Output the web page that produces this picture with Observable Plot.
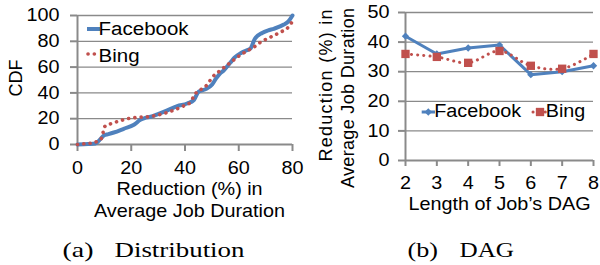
<!DOCTYPE html>
<html>
<head>
<meta charset="utf-8">
<script src="https://cdn.jsdelivr.net/npm/d3@7"></script>
<script src="https://cdn.jsdelivr.net/npm/@observablehq/plot@0.6"></script>
<style>
html, body { margin:0; padding:0; background:#fff; }
#wrap { position:relative; width:600px; height:265px; overflow:hidden; background:#fff; }
#wrap > svg { position:absolute; top:0; }
#wrap svg text { fill:#000; }
#wrap svg [aria-label*="tick"] line, #wrap svg [aria-label*="tick"] path,
#wrap svg [aria-label="x-axis"] line, #wrap svg [aria-label="y-axis"] line { stroke-width:2px; }
</style>
</head>
<body>
<div id="wrap"></div>
<script>
// ---------- data ----------
const seriesNames = ["Facebook", "Bing"];

// (a) CDF of reduction (%) in average job duration
const cdfFacebookX = [0,4,6.7,8.6,9.8,11.5,13.5,17.2,21,23.4,25,27.2,29.7,33.4,37.1,40.8,43.3,45.1,47.6,50.1,51.5,53,54.4,56.9,58.5,60.7,63,64.4,66,68.7,71,73,76.8,78.5,80];
const cdfFacebookY = [0,0.3,0.8,4.4,7,8,9.3,12.2,15.3,19.1,20.5,21.5,23.4,26.4,29.8,31.8,34.5,41,42.8,46.5,51,55,57.4,63.5,67.5,70.8,73,74.5,82,86.5,88.5,89.7,93,95.5,100];
const cdfBingX = [0,1.1,4.8,7.9,9.2,9.9,12.3,15.4,18.5,22.2,26.5,28.4,32.1,35.8,39.6,42,43.3,44.3,46.4,48.3,50.1,52.6,56.9,60.7,64.4,66,68.1,71.8,75.5,78,80];
const cdfBingY = [0,0.3,1,3.1,5.7,13.5,16,18.1,19.9,21,21.5,22.2,24,26.6,30,32.6,37.5,40.5,43.2,46.5,52,56.5,63.5,69.5,74,76,79.3,83.2,87.1,90,95.5];
const cdfXTicks = [0,20,40,60,80];
const cdfYTicks = [0,20,40,60,80,100];
const cdfXTitle = ["Reduction (%) in", "Average Job Duration"];
const cdfYTitle = "CDF";

// (b) reduction by length of job's DAG
const dagLength = [2,3,4,5,6,7,8];
const dagFacebook = [42,36,38,39,29,30,32];
const dagBing = [36,35,33,37,32,31,36];
const dagYTicks = [0,10,20,30,40,50];
const dagXTitle = "Length of Job\u2019s DAG";
const dagYTitle = ["Reduction (%) in", "Average Job Duration"];

const captions = [["(a)", "Distribution"], ["(b)", "DAG"]];

// ---------- styles ----------
const blue = "#4F81BD", red = "#C0504D", gray = "#8a8a8a";
const font = "'Liberation Sans', Arial, sans-serif";
const serif = "'Liberation Serif', 'Times New Roman', serif";

const fbRows = cdfFacebookX.map((x, i) => ({x, y: cdfFacebookY[i]}));
const bingRows = cdfBingX.map((x, i) => ({x, y: cdfBingY[i]}));
const dagRows = dagLength.map((len, i) => ({len, fb: dagFacebook[i], bing: dagBing[i]}));

const baseStyle = {fontFamily: font, fontSize: "18px", color: gray, background: "transparent", overflow: "visible"};
const title = {text: d => d, textAnchor: "middle", lineAnchor: "middle", fill: "#000"};

const left = Plot.plot({
  width: 300, height: 225,
  marginLeft: 77, marginRight: 8, marginTop: 15, marginBottom: 81,
  style: baseStyle,
  x: {domain: [0, 80], ticks: cdfXTicks, tickFormat: d => String(d), tickSize: 7, tickPadding: 9.5, label: null},
  y: {domain: [0, 100], ticks: cdfYTicks, tickFormat: d => String(d), tickSize: 7, tickPadding: 11, label: null},
  marks: [
    Plot.ruleY(cdfYTicks.filter(d => d > 0), {stroke: gray, strokeWidth: 1.3}),
    Plot.ruleX([0], {stroke: gray, strokeWidth: 2}),
    Plot.ruleY([0], {stroke: gray, strokeWidth: 2}),
    Plot.line(fbRows, {x: "x", y: "y", stroke: blue, strokeWidth: 4, curve: "monotone-x"}),
    Plot.line(bingRows, {x: "x", y: "y", stroke: red, strokeWidth: 3.6, strokeDasharray: "0.1 6.2", strokeLinecap: "round", curve: "monotone-x"}),
    Plot.text([cdfYTitle], {...title, frameAnchor: "left", rotate: -90, dx: -61.4, dy: -2}),
    Plot.text([cdfXTitle[0]], {...title, frameAnchor: "bottom", dx: 4.5, dy: 45}),
    Plot.text([cdfXTitle[1]], {...title, frameAnchor: "bottom", dx: 4.5, dy: 66.7})
  ]
});

const right = Plot.plot({
  width: 300, height: 225,
  marginLeft: 105, marginRight: 7, marginTop: 12, marginBottom: 65,
  style: baseStyle,
  x: {domain: [2, 8], ticks: dagLength, tickFormat: d => String(d), tickSize: 6, tickPadding: 10, label: null},
  y: {domain: [0, 50], ticks: dagYTicks, tickFormat: d => String(d), tickSize: 7, tickPadding: 9, label: null},
  marks: [
    Plot.ruleY(dagYTicks.filter(d => d > 0), {stroke: gray, strokeWidth: 1.3}),
    Plot.ruleX([2], {stroke: gray, strokeWidth: 2}),
    Plot.ruleY([0], {stroke: gray, strokeWidth: 2}),
    Plot.line(dagRows, {x: "len", y: "fb", stroke: blue, strokeWidth: 3}),
    Plot.dot(dagRows, {x: "len", y: "fb", symbol: "diamond2", r: 3.3, fill: blue}),
    Plot.line(dagRows, {x: "len", y: "bing", stroke: red, strokeWidth: 3, strokeDasharray: "0.1 6", strokeLinecap: "round", curve: "catmull-rom"}),
    Plot.dot(dagRows, {x: "len", y: "bing", symbol: "square", r: 4.7, fill: red}),
    Plot.text([dagYTitle[0]], {...title, frameAnchor: "left", rotate: -90, dx: -79.4, dy: -1}),
    Plot.text([dagYTitle[1]], {...title, frameAnchor: "left", rotate: -90, dx: -57.4, dy: 11.5}),
    Plot.text([dagXTitle], {...title, frameAnchor: "bottom", dy: 44})
  ]
});

const wrap = document.getElementById("wrap");
left.style.left = "0px";
right.style.left = "300px";
wrap.appendChild(left);
wrap.appendChild(right);

// horizontal stretch of (non-rotated) texts to match the reference's wide rendering
function stretch(svg, k) {
  svg.querySelectorAll("text").forEach(t => {
    const m = t.getCTM();
    if (m && Math.abs(m.b) > 0.5) return; // rotated
    const b = t.getBBox();
    const anchor = getComputedStyle(t).textAnchor;
    const ax = anchor === "middle" ? b.x + b.width / 2 : anchor === "end" ? b.x + b.width : b.x;
    const tr = t.getAttribute("transform") || "";
    t.setAttribute("transform", `${tr} translate(${ax},0) scale(${k},1) translate(${-ax},0)`);
  });
}
stretch(left, 1.1);
stretch(right, 1.1);

// the rotated title of (b) is set a little looser in the reference
right.querySelectorAll("text").forEach(t => {
  if (t.textContent === dagYTitle[0]) { t.setAttribute("textLength", 152); t.setAttribute("lengthAdjust", "spacing"); }
  if (t.textContent === dagYTitle[1]) { t.setAttribute("textLength", 180); t.setAttribute("lengthAdjust", "spacing"); }
});

// ---------- overlay: legends and captions ----------
const ov = d3.create("svg").attr("width", 600).attr("height", 265)
  .style("left", "0px").style("font-family", font).style("font-size", "18px");

// legend (a)
ov.append("line").attr("x1", 87).attr("x2", 100).attr("y1", 29).attr("y2", 29)
  .attr("stroke", blue).attr("stroke-width", 4);
ov.append("text").attr("x", 98.6).attr("y", 35).attr("textLength", 90)
  .attr("lengthAdjust", "spacingAndGlyphs").text(seriesNames[0]);
ov.append("line").attr("x1", 88).attr("x2", 95).attr("y1", 54).attr("y2", 54)
  .attr("stroke", red).attr("stroke-width", 3.6).attr("stroke-dasharray", "0.1 6.2").attr("stroke-linecap", "round");
ov.append("text").attr("x", 98.6).attr("y", 61.7).attr("textLength", 41)
  .attr("lengthAdjust", "spacingAndGlyphs").text(seriesNames[1]);

// legend (b)
ov.append("line").attr("x1", 421.7).attr("x2", 435).attr("y1", 112).attr("y2", 112)
  .attr("stroke", blue).attr("stroke-width", 3);
ov.append("path").attr("transform", "translate(428.3,112)")
  .attr("d", d3.symbol(d3.symbolDiamond2, Math.pow(3.3 * Math.sqrt(Math.PI), 2))()).attr("fill", blue);
ov.append("text").attr("x", 434.2).attr("y", 117.3).attr("textLength", 87)
  .attr("lengthAdjust", "spacingAndGlyphs").text(seriesNames[0]);
ov.append("line").attr("x1", 533).attr("x2", 548).attr("y1", 112).attr("y2", 112)
  .attr("stroke", red).attr("stroke-width", 3).attr("stroke-dasharray", "0.1 6").attr("stroke-linecap", "round");
ov.append("path").attr("transform", "translate(540,112)")
  .attr("d", d3.symbol(d3.symbolSquare, Math.pow(4.7 * Math.sqrt(Math.PI), 2))()).attr("fill", red);
ov.append("text").attr("x", 545.8).attr("y", 117.3).attr("textLength", 39.5)
  .attr("lengthAdjust", "spacingAndGlyphs").text(seriesNames[1]);

// captions
const capPos = [[[62.5, 31], [114.5, 130]], [[407.5, 30.5], [459.5, 54.5]]];
captions.forEach((pair, i) => {
  pair.forEach((s, j) => {
    ov.append("text").attr("x", capPos[i][j][0]).attr("y", 257)
      .attr("textLength", capPos[i][j][1]).attr("lengthAdjust", "spacingAndGlyphs")
      .style("font-family", serif).style("font-size", "21px").text(s);
  });
});
wrap.appendChild(ov.node());
</script>
</body>
</html>
